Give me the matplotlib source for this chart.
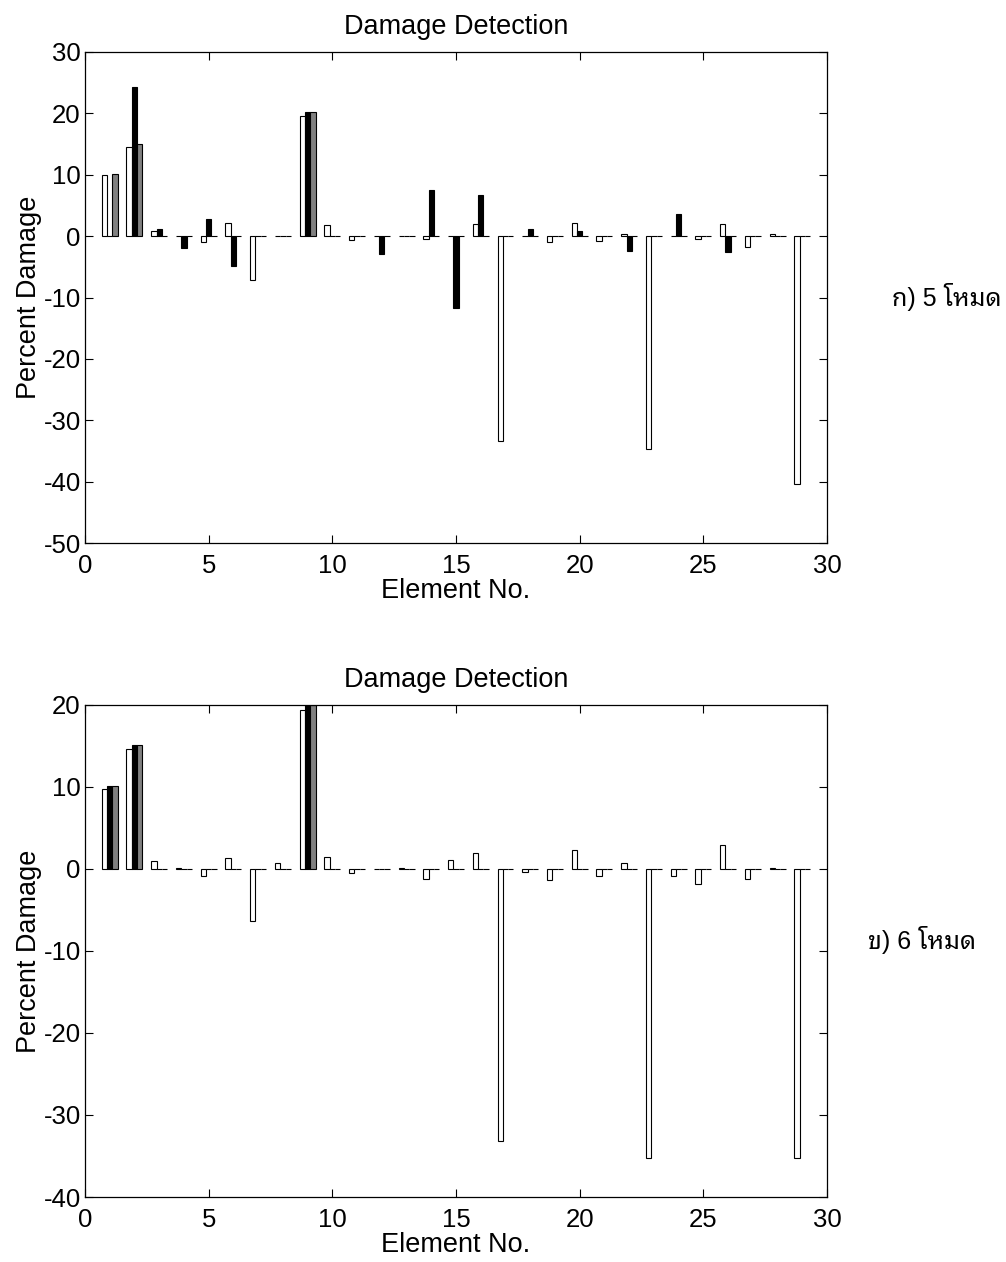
import numpy as np
import matplotlib
matplotlib.use("Agg")
import matplotlib.pyplot as plt
from matplotlib import font_manager

# Element numbers along the truss
elements = list(range(1, 30))

# Case (a): 5 modes - three damage-identification results per element
case5_white = [10.0, 14.5, 0.8, 0.0, -0.9, 2.2, -7.1, 0.0, 19.6, 1.8,
               -0.6, 0.0, 0.0, -0.4, 0.0, 2.0, -33.4, 0.0, -1.0, 2.2,
               -0.8, 0.4, -34.7, 0.0, -0.4, 2.0, -1.8, 0.4, -40.4]
case5_black = [0.0, 24.3, 1.2, -1.9, 2.8, -4.8, 0.0, 0.0, 20.2, 0.0,
               0.0, -2.9, 0.0, 7.5, -11.7, 6.7, 0.0, 1.2, 0.0, 0.8,
               0.0, -2.5, 0.0, 3.6, 0.0, -2.6, 0.0, 0.1, 0.0]
case5_gray = [10.2, 15.0, 0.1, 0.0, 0.0, 0.0, 0.0, 0.0, 20.2, 0.0,
              0.0, 0.0, 0.0, 0.0, 0.0, 0.0, 0.0, 0.0, 0.0, 0.0,
              0.0, 0.0, 0.0, 0.0, 0.0, 0.0, 0.0, 0.0, 0.0]

# Case (b): 6 modes
case6_white = [9.8, 14.6, 1.0, 0.1, -0.9, 1.3, -6.3, 0.7, 19.4, 1.4,
               -0.5, 0.0, 0.1, -1.2, 1.1, 2.0, -33.2, -0.4, -1.4, 2.3,
               -0.9, 0.7, -35.3, -0.9, -1.8, 2.9, -1.2, 0.1, -35.2]
case6_black = [10.1, 15.1, 0.0, 0.0, 0.0, 0.0, 0.0, 0.0, 20.0, 0.0,
               0.0, 0.0, 0.0, 0.0, 0.0, 0.0, 0.0, 0.0, 0.0, 0.0,
               0.0, 0.0, 0.0, 0.0, 0.0, 0.0, 0.0, 0.0, 0.0]
case6_gray = [10.1, 15.1, 0.0, 0.0, 0.0, 0.0, 0.0, 0.0, 20.0, 0.0,
              0.0, 0.0, 0.0, 0.0, 0.0, 0.0, 0.0, 0.0, 0.0, 0.0,
              0.0, 0.0, 0.0, 0.0, 0.0, 0.0, 0.0, 0.0, 0.0]

x_ticks = [0, 5, 10, 15, 20, 25, 30]
y_ticks_a = [-50, -40, -30, -20, -10, 0, 10, 20, 30]
y_ticks_b = [-40, -30, -20, -10, 0, 10, 20]

title_text = "Damage Detection"
xlabel_text = "Element No."
ylabel_text = "Percent Damage"
caption_a = "ก) 5 โหมด"
caption_b = "ข) 6 โหมด"

# Pick a font that can render Thai (looped styles preferred)
thai_candidates = ["Noto Sans Thai Looped", "Loma", "Garuda", "Tahoma", "Waree",
                   "Norasi", "Kinnari", "Sawasdee", "Umpush", "Tlwg Typo",
                   "Noto Sans Thai", "Noto Sans Thai UI", "Noto Serif Thai"]
available = {f.name for f in font_manager.fontManager.ttflist}
thai_fonts = [f for f in thai_candidates if f in available]
if not thai_fonts:
    for f in font_manager.fontManager.ttflist:
        if "thai" in f.name.lower():
            thai_fonts.append(f.name)
            break

plt.rcParams["font.family"] = ["Liberation Sans", "DejaVu Sans"]
plt.rcParams["axes.unicode_minus"] = False

fig = plt.figure(figsize=(10.06, 12.62), dpi=100)
ax_a = fig.add_axes([0.0845, 0.5697, 0.7376, 0.3891])
ax_b = fig.add_axes([0.0845, 0.0515, 0.7376, 0.3899])

bar_w = 0.215
colors = ["white", "black", "#808080"]


def draw_panel(ax, series, yticks, ylim):
    x = np.array(elements, dtype=float)
    offsets = [-bar_w, 0.0, bar_w]
    for vals, off, col in zip(series, offsets, colors):
        ax.bar(x + off, vals, width=bar_w, color=col, edgecolor="black",
               linewidth=0.8, zorder=2)
    ax.set_xlim(0, 30)
    ax.set_ylim(*ylim)
    ax.set_xticks(x_ticks)
    ax.set_yticks(yticks)
    ax.tick_params(direction="in", length=6, width=0.8, top=True, right=True,
                   labelsize=18.5)
    ax.tick_params(axis="x", pad=8)
    ax.tick_params(axis="y", pad=3)
    for s in ax.spines.values():
        s.set_linewidth(0.9)
    ax.set_title(title_text, fontsize=19.5, pad=13)
    ax.set_xlabel(xlabel_text, fontsize=19.5, labelpad=0)
    ax.set_ylabel(ylabel_text, fontsize=19.5, labelpad=1)


draw_panel(ax_a, [case5_white, case5_black, case5_gray], y_ticks_a, (-50, 30))
draw_panel(ax_b, [case6_white, case6_black, case6_gray], y_ticks_b, (-40, 20))

cap_family = ["Liberation Sans"] + thai_fonts + ["DejaVu Sans"]
fig.text(0.996, 1 - 297 / 1262, caption_a, ha="right", va="center",
         fontsize=18, family=cap_family)
fig.text(0.97, 1 - 940 / 1262, caption_b, ha="right", va="center",
         fontsize=18, family=cap_family)

fig.savefig("out.png", dpi=100)
